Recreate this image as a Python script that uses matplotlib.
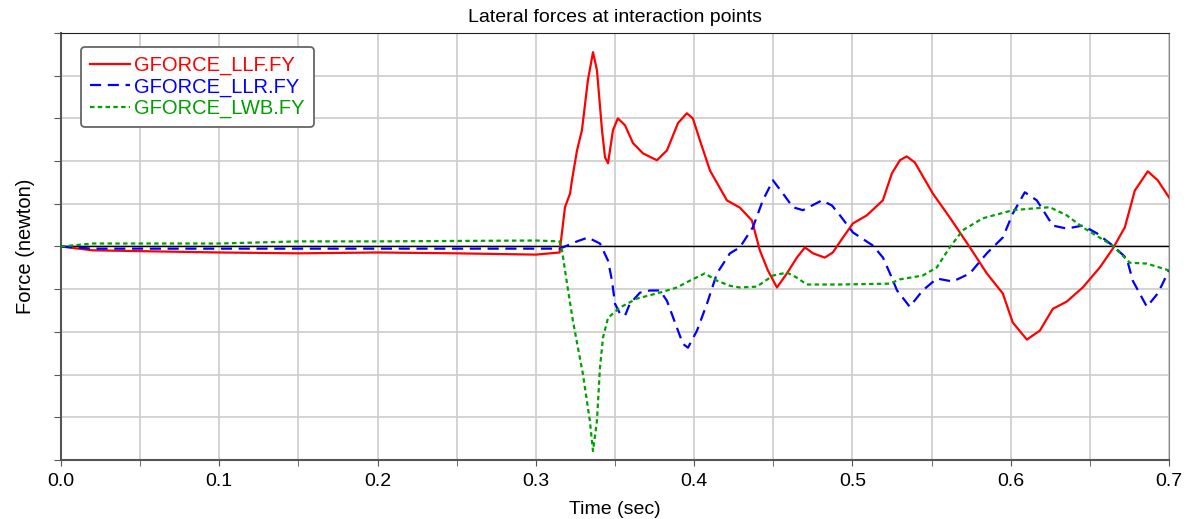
import numpy as np
import matplotlib
matplotlib.use('Agg')
from matplotlib import pyplot as plt

plt.rcParams['font.family'] = ['Liberation Sans', 'DejaVu Sans']

# Data (force in arbitrary units, y axis has no labels)
t_llf = [0.0, 0.02, 0.1, 0.15, 0.2, 0.25, 0.3, 0.315, 0.3184, 0.3216, 0.3228, 0.326,
         0.3291, 0.3329, 0.3361, 0.3386, 0.3418, 0.3437, 0.3456, 0.3487, 0.3518,
         0.3563, 0.3614, 0.3677, 0.3765, 0.3828, 0.3898, 0.3954, 0.3992, 0.4036,
         0.41, 0.4207, 0.4289, 0.4365, 0.4415, 0.4466, 0.4523, 0.4586, 0.4649,
         0.47, 0.4751, 0.4825, 0.4876, 0.494, 0.5003, 0.5091, 0.5192, 0.5249,
         0.53, 0.5343, 0.5394, 0.5508, 0.5615, 0.5742, 0.5849, 0.595, 0.6013,
         0.6102, 0.6184, 0.6266, 0.6354, 0.6455, 0.6563, 0.6645, 0.6721, 0.6784,
         0.6866, 0.6929, 0.7]
f_llf = [0.0, -0.09, -0.14, -0.16, -0.14, -0.16, -0.19, -0.14, 0.92, 1.24, 1.55, 2.25,
         2.72, 3.9, 4.55, 4.13, 2.72, 2.09, 1.95, 2.72, 3.0,
         2.84, 2.42, 2.18, 2.02, 2.25, 2.89, 3.12, 3.0, 2.49,
         1.78, 1.08, 0.91, 0.61, -0.09, -0.56, -0.96, -0.63, -0.26,
         -0.02, -0.16, -0.26, -0.14, 0.21, 0.54, 0.73, 1.08, 1.71,
         2.02, 2.11, 1.97, 1.24, 0.68, -0.02, -0.63, -1.1, -1.78,
         -2.18, -1.97, -1.46, -1.29, -0.96, -0.49, -0.05, 0.45, 1.31,
         1.76, 1.55, 1.15]

t_llr = [0.0, 0.02, 0.1, 0.2, 0.3, 0.315, 0.3171, 0.326, 0.3329, 0.3405, 0.3456,
         0.3481, 0.35, 0.3531, 0.3563, 0.3594, 0.3658, 0.3721, 0.3784, 0.3828,
         0.3891, 0.3929, 0.3961, 0.4018, 0.4081, 0.4144, 0.4226, 0.4289, 0.4371,
         0.4434, 0.4498, 0.4561, 0.4624, 0.4687, 0.4807, 0.4871, 0.4921, 0.5003,
         0.513, 0.5193, 0.5237, 0.5282, 0.5362, 0.5444, 0.5533, 0.5634, 0.5742,
         0.5849, 0.595, 0.6013, 0.6089, 0.6165, 0.6266, 0.6354, 0.6455, 0.6544,
         0.6645, 0.6733, 0.6771, 0.686, 0.6929, 0.7]
f_llr = [0.0, -0.05, -0.05, -0.05, -0.05, -0.05, -0.02, 0.12, 0.21, 0.07, -0.33,
         -0.8, -1.34, -1.57, -1.62, -1.34, -1.08, -1.03, -1.03, -1.27,
         -1.9, -2.28, -2.37, -1.97, -1.34, -0.63, -0.16, -0.02, 0.45,
         1.08, 1.55, 1.24, 0.92, 0.85, 1.08, 0.96, 0.73, 0.33,
         0.02, -0.26, -0.63, -1.03, -1.41, -1.03, -0.75, -0.82, -0.63,
         -0.16, 0.21, 0.77, 1.27, 1.08, 0.49, 0.42, 0.49, 0.31,
         0.02, -0.28, -0.8, -1.41, -1.1, -0.56]

t_lwb = [0.0, 0.02, 0.1, 0.15, 0.2, 0.3, 0.315, 0.3165, 0.3197, 0.3234, 0.3297,
         0.3341, 0.3361, 0.3386, 0.3405, 0.3424, 0.3456, 0.3531, 0.3638, 0.3784,
         0.3891, 0.3973, 0.4068, 0.4144, 0.4226, 0.4289, 0.4396, 0.4498, 0.4586,
         0.4649, 0.4712, 0.4921, 0.5237, 0.5299, 0.5444, 0.5533, 0.5615, 0.5697,
         0.5823, 0.6013, 0.6139, 0.6247, 0.6354, 0.6455, 0.6645, 0.6752, 0.686, 0.7]
f_lwb = [0.0, 0.07, 0.07, 0.12, 0.12, 0.14, 0.12, -0.09, -0.87, -1.74, -2.98,
         -4.08, -4.79, -4.08, -2.84, -2.14, -1.67, -1.43, -1.22, -1.08,
         -0.96, -0.8, -0.63, -0.8, -0.92, -0.96, -0.94, -0.68, -0.61,
         -0.73, -0.89, -0.89, -0.87, -0.77, -0.68, -0.49, -0.02, 0.38,
         0.66, 0.85, 0.89, 0.92, 0.73, 0.45, 0.02, -0.38, -0.4, -0.56]

fig = plt.figure(figsize=(11.86, 5.19), dpi=100)
ax = fig.add_axes([61 / 1186, 1 - 460 / 519, 1108 / 1186, 427 / 519])

ax.axhline(0, color='black', linewidth=1, zorder=2)

ax.plot(t_llf, f_llf, color='#ff0000', linewidth=1.6, label='GFORCE_LLF.FY', zorder=3)
ax.plot(t_llr, f_llr, color='#0000ff', linewidth=1.6, dashes=(5, 3),
        label='GFORCE_LLR.FY', zorder=3)
ax.plot(t_lwb, f_lwb, color='#00a000', linewidth=1.6, dashes=(2, 1.5),
        label='GFORCE_LWB.FY', zorder=3)

ax.set_xlim(0, 0.7)
ax.set_ylim(-5, 5)
ax.set_xticks(np.arange(0, 0.71, 0.1))
ax.set_xticks(np.arange(0.05, 0.7, 0.1), minor=True)
ax.set_yticks(np.arange(-5, 5.1, 1))
ax.set_yticklabels([])
ax.grid(True, which='both', color='#cccccc', linewidth=1.2)
ax.set_axisbelow(True)
ax.tick_params(axis='x', which='both', direction='out', length=4, color='#555555',
               labelsize=14, pad=5)
ax.tick_params(axis='y', direction='out', length=5, color='#555555')

for side in ['left', 'bottom']:
    ax.spines[side].set_color('#555555')
    ax.spines[side].set_linewidth(1.5)
ax.spines['top'].set_color('#222222')
ax.spines['right'].set_color('#888888')

ax.set_title('Lateral forces at interaction points', fontsize=14, pad=8)
ax.set_xlabel('Time (sec)', fontsize=14, labelpad=8)
ax.set_ylabel('Force (newton)', fontsize=14.5, labelpad=10)

leg = ax.legend(loc='upper left', bbox_to_anchor=(0.018, 0.967), fontsize=14.5,
                handlelength=2.0, handletextpad=0.2, borderpad=0.45,
                borderaxespad=0, labelspacing=0.1, fancybox=True, framealpha=1,
                edgecolor='#666666')
leg.get_frame().set_linewidth(1.3)
for txt, line in zip(leg.get_texts(), leg.get_lines()):
    txt.set_color(line.get_color())

fig.savefig('out.png', dpi=100)
